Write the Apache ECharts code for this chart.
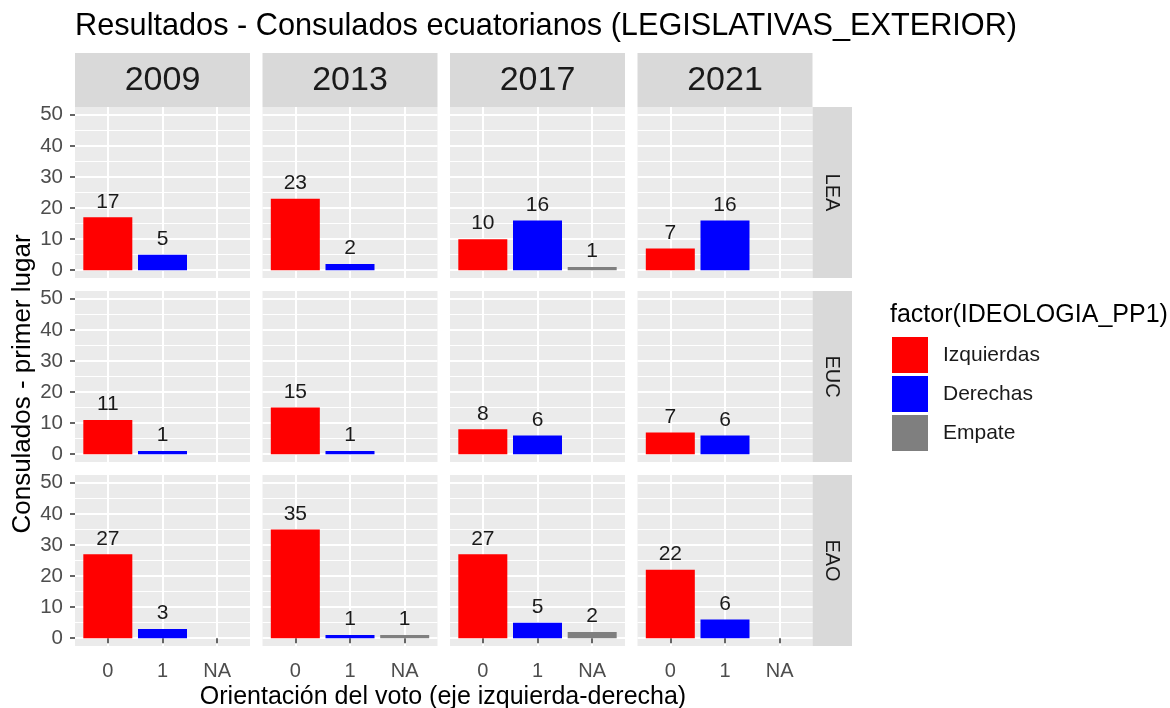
<!DOCTYPE html>
<html>
<head>
<meta charset="utf-8">
<script src="https://cdn.jsdelivr.net/npm/echarts@6/dist/echarts.min.js"></script>
<style>
html, body { margin: 0; padding: 0; background: #fff; }
#chart { width: 1170px; height: 708px; }
</style>
</head>
<body>
<div id="chart"></div>
<script>
const years = ['2009', '2013', '2017', '2021']
const regions = ['LEA', 'EUC', 'EAO']
const xLabels = ['0', '1', 'NA']
const groups = ['Izquierdas', 'Derechas', 'Empate']
const groupColors = ['#FF0000', '#0000FF', '#7F7F7F']
const yTicks = [0, 10, 20, 30, 40, 50]
const yMinor = [5, 15, 25, 35, 45]

// consulados ganados por año (2009, 2013, 2017, 2021); null = sin barra
const izqLEA = [17, 23, 10, 7]
const derLEA = [5, 2, 16, 16]
const empLEA = [null, null, 1, null]
const izqEUC = [11, 15, 8, 7]
const derEUC = [1, 1, 6, 6]
const empEUC = [null, null, null, null]
const izqEAO = [27, 35, 27, 22]
const derEAO = [3, 1, 5, 6]
const empEAO = [null, 1, 2, null]

const valuesByRegion = [
    [izqLEA, derLEA, empLEA],
    [izqEUC, derEUC, empEUC],
    [izqEAO, derEAO, empEAO]
]

const font = 'Liberation Sans, Arial, sans-serif'
const colLeft = [75, 262.5, 450, 637.5]
const rowTop = [107, 291, 475]
const panelW = 175
const panelH = 171

const grids = []
const xAxes = []
const yAxes = []
const series = []
const graphics = []

regions.forEach((reg, r) => {
    years.forEach((yr, c) => {
        const gi = grids.length
        grids.push({
            left: colLeft[c], top: rowTop[r], width: panelW, height: panelH,
            show: true, backgroundColor: '#EBEBEB', borderWidth: 0
        })
        xAxes.push({
            gridIndex: gi, type: 'value', min: 0.4, max: 3.6,
            axisLine: { show: false },
            axisTick: { show: r === 2, customValues: [1, 2, 3], length: 5, lineStyle: { color: '#333', width: 1.5 } },
            axisLabel: {
                show: r === 2, customValues: [1, 2, 3], margin: 15,
                formatter: v => xLabels[Math.round(v) - 1],
                color: '#4D4D4D', fontSize: 20, fontFamily: font
            },
            splitLine: { show: true, lineStyle: { color: '#fff', width: 2 } }
        })
        const yMain = yAxes.length
        yAxes.push({
            gridIndex: gi, type: 'value', min: -2.5, max: 52.5,
            axisLine: { show: false },
            axisTick: { show: c === 0, customValues: yTicks, length: 5, lineStyle: { color: '#333', width: 1.5 } },
            axisLabel: { show: c === 0, customValues: yTicks, margin: 12, color: '#4D4D4D', fontSize: 20.5, fontFamily: font },
            splitLine: { show: true, lineStyle: { color: '#fff', width: 2 } }
        })
        yAxes.push({
            gridIndex: gi, type: 'value', position: 'right', min: -2.5, max: 52.5,
            axisLine: { show: false },
            axisTick: { show: false, customValues: yMinor },
            axisLabel: { show: false },
            splitLine: { show: true, lineStyle: { color: '#fff', width: 1 } }
        })
        groups.forEach((g, k) => {
            const v = valuesByRegion[r][k][c]
            series.push({
                name: g,
                type: 'bar',
                xAxisIndex: gi,
                yAxisIndex: yMain,
                barWidth: 49,
                barGap: '-100%',
                itemStyle: { color: groupColors[k] },
                label: {
                    show: true, position: 'top', distance: 5,
                    fontSize: 21, color: '#1A1A1A', fontFamily: font,
                    formatter: p => p.value[1]
                },
                data: v == null ? [] : [[k + 1, v]]
            })
        })
    })
})

// strips de las facetas
years.forEach((yr, c) => {
    graphics.push({
        type: 'rect', left: colLeft[c], top: 53, shape: { width: panelW, height: 54 },
        style: { fill: '#D9D9D9' }
    })
    graphics.push({
        type: 'text', x: colLeft[c] + panelW / 2, y: 81,
        style: { text: yr, fill: '#1A1A1A', font: '34px ' + font, align: 'center', verticalAlign: 'middle' }
    })
})
regions.forEach((reg, r) => {
    graphics.push({
        type: 'rect', left: 812.5, top: rowTop[r], shape: { width: 39.5, height: panelH },
        style: { fill: '#D9D9D9' }
    })
    graphics.push({
        type: 'text', x: 832, y: rowTop[r] + panelH / 2, rotation: -Math.PI / 2,
        style: { text: reg, fill: '#1A1A1A', font: '20px ' + font, align: 'center', verticalAlign: 'middle' }
    })
})
graphics.push({
    type: 'text', x: 23, y: 384, rotation: Math.PI / 2,
    style: { text: 'Consulados - primer lugar', fill: '#000', font: '26px ' + font, align: 'center', verticalAlign: 'middle' }
})
graphics.push({
    type: 'text', x: 443, y: 697,
    style: { text: 'Orientación del voto (eje izquierda-derecha)', fill: '#000', font: '25px ' + font, align: 'center', verticalAlign: 'middle' }
})
graphics.push({
    type: 'text', x: 890, y: 315,
    style: { text: 'factor(IDEOLOGIA_PP1)', fill: '#000', font: '25px ' + font, align: 'left', verticalAlign: 'middle' }
})

const chart = echarts.init(document.getElementById('chart'), null, { renderer: 'canvas' })
chart.setOption({
    animation: false,
    backgroundColor: '#fff',
    title: {
        text: 'Resultados - Consulados ecuatorianos (LEGISLATIVAS_EXTERIOR)',
        left: 75, top: 11, padding: 0,
        textStyle: { fontSize: 30.7, fontWeight: 'normal', color: '#000', fontFamily: font }
    },
    legend: {
        data: groups, orient: 'vertical', left: 892, top: 337, padding: 0,
        itemWidth: 36, itemHeight: 36, itemGap: 3, icon: 'rect', selectedMode: false,
        textStyle: { fontSize: 21, color: '#1A1A1A', fontFamily: font, padding: [0, 0, 0, 10] }
    },
    grid: grids,
    xAxis: xAxes,
    yAxis: yAxes,
    series: series,
    graphic: graphics
})
</script>
</body>
</html>
